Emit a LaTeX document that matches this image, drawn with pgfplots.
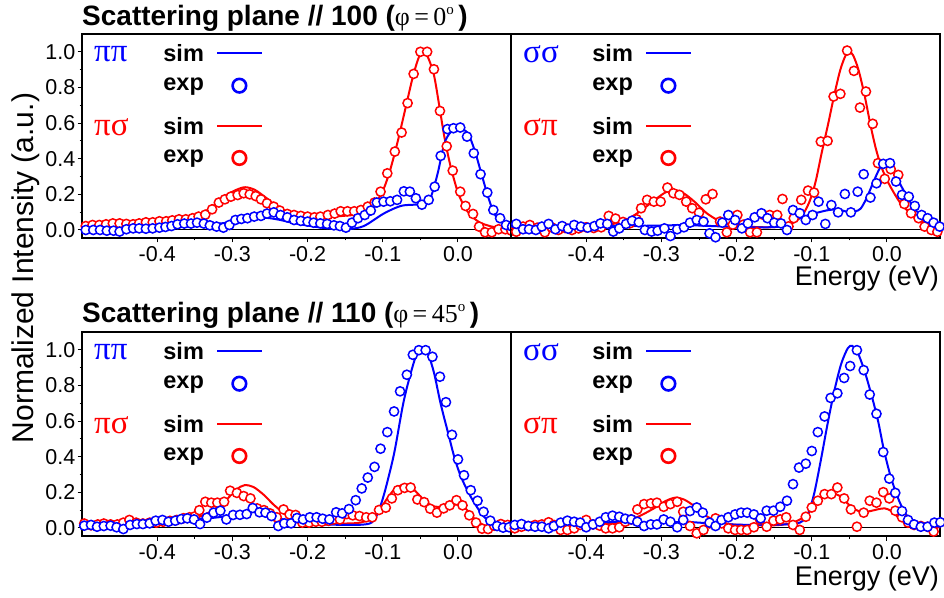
\documentclass[border=0pt]{standalone}
\usepackage{fontspec}
\setmainfont{Liberation Sans}
\newfontfamily\serif{Liberation Serif}
\usepackage{pgfplots}
\pgfplotsset{compat=1.18}
\definecolor{pblue}{RGB}{0,0,255}
\definecolor{pred}{RGB}{255,0,0}
\pgfplotsset{
  panel/.style={
    scale only axis, width=429pt, height=204pt,
    xmin=-0.5, xmax=0.0705, ymin=-0.045, ymax=1.10,
    axis line style={line width=1.6pt},
    tick align=outside, major tick length=4.5pt, minor tick length=2.5pt,
    every tick/.style={black, line width=1pt},
    xtick={-0.4,-0.3,-0.2,-0.1,0}, minor x tick num=1,
    xtick pos=lower, ytick pos=left,
    ytick={0,0.2,0.4,0.6,0.8,1.0}, minor y tick num=1,
    tick label style={font=\fontsize{21.5}{21.5}\selectfont},
    xticklabel style={/pgf/number format/.cd, fixed, fixed zerofill, precision=1, assume math mode=true},
    yticklabel style={inner sep=2pt, /pgf/number format/.cd, fixed, fixed zerofill, precision=1, assume math mode=true},
    clip=false,
  },
  rpanel/.style={panel, ytick=\empty},
  sim/.style={line width=2pt, smooth, no marks},
  expm/.style={only marks, mark=*, mark size=4.6pt, mark options={fill=white, line width=1.5pt}},
}
\newcommand{\legtext}{\fontsize{23.5}{23.5}\selectfont\bfseries}
\newcommand{\greektext}{\fontsize{33}{33}\serif}
\newcommand{\panellegend}[2]{%
  \node[anchor=west,inner sep=0,text=pblue,font=\greektext] at (axis cs:-0.484,0.985) {#1};
  \node[anchor=west,inner sep=0,font=\legtext] at (axis cs:-0.392,0.99) {sim};
  \addplot[pblue, line width=2pt, forget plot] coordinates {(-0.32,0.994) (-0.26,0.994)};
  \node[anchor=west,inner sep=0,font=\legtext] at (axis cs:-0.392,0.803) {exp};
  \addplot[pblue, only marks, mark=o, mark size=6.8pt, mark options={line width=2.6pt}, forget plot] coordinates {(-0.2907,0.81)};
  \node[anchor=west,inner sep=0,text=pred,font=\greektext] at (axis cs:-0.484,0.579) {#2};
  \node[anchor=west,inner sep=0,font=\legtext] at (axis cs:-0.392,0.584) {sim};
  \addplot[pred, line width=2pt, forget plot] coordinates {(-0.32,0.584) (-0.26,0.584)};
  \node[anchor=west,inner sep=0,font=\legtext] at (axis cs:-0.392,0.40) {exp};
  \addplot[pred, only marks, mark=o, mark size=6.8pt, mark options={line width=2.6pt}, forget plot] coordinates {(-0.2907,0.404)};
}
\newcommand{\zeroline}{\addplot[black, line width=1pt, forget plot] coordinates {(-0.5,0) (0.0705,0)};}
\begin{document}
\begin{tikzpicture}
\useasboundingbox (0pt,0pt) rectangle (944pt,597pt);

% ---------------- top left
\begin{axis}[panel, at={(82pt,359pt)}, anchor=south west]
\zeroline
\addplot[pred, sim] coordinates {(-0.5,0.025) (-0.45,0.03) (-0.40,0.04) (-0.37,0.06) (-0.35,0.08) (-0.33,0.12) (-0.31,0.19) (-0.295,0.225) (-0.283,0.24) (-0.27,0.225) (-0.255,0.18) (-0.24,0.13) (-0.225,0.10) (-0.21,0.085) (-0.19,0.075) (-0.17,0.075) (-0.15,0.08) (-0.13,0.09) (-0.115,0.12) (-0.10,0.22) (-0.09,0.34) (-0.08,0.50) (-0.07,0.68) (-0.06,0.86) (-0.052,0.97) (-0.046,1.0) (-0.04,0.97) (-0.032,0.87) (-0.025,0.70) (-0.018,0.52) (-0.01,0.36) (0.0,0.21) (0.01,0.12) (0.02,0.07) (0.03,0.04) (0.04,0.025) (0.05,0.015) (0.0705,0.01)};
\addplot[pblue, sim] coordinates {(-0.5,0.0) (-0.45,0.003) (-0.40,0.01) (-0.36,0.02) (-0.33,0.03) (-0.30,0.045) (-0.28,0.062) (-0.265,0.07) (-0.25,0.066) (-0.235,0.055) (-0.22,0.04) (-0.20,0.025) (-0.18,0.012) (-0.16,0.005) (-0.145,0.005) (-0.13,0.015) (-0.12,0.034) (-0.098,0.094) (-0.076,0.135) (-0.058,0.142) (-0.045,0.148) (-0.036,0.187) (-0.027,0.318) (-0.018,0.487) (-0.009,0.552) (0.002,0.571) (0.013,0.543) (0.022,0.449) (0.031,0.318) (0.040,0.187) (0.048,0.094) (0.057,0.047) (0.0705,0.019)};
\addplot[pred, expm] coordinates {(-0.495,0.022) (-0.486,0.028) (-0.477,0.028) (-0.468,0.032) (-0.459,0.037) (-0.450,0.037) (-0.441,0.034) (-0.432,0.032) (-0.424,0.037) (-0.415,0.043) (-0.406,0.043) (-0.397,0.049) (-0.388,0.049) (-0.380,0.054) (-0.371,0.060) (-0.362,0.060) (-0.353,0.066) (-0.345,0.075) (-0.336,0.086) (-0.327,0.116) (-0.318,0.154) (-0.310,0.172) (-0.302,0.187) (-0.293,0.196) (-0.285,0.206) (-0.277,0.200) (-0.269,0.190) (-0.262,0.172) (-0.254,0.150) (-0.245,0.131) (-0.237,0.109) (-0.227,0.090) (-0.218,0.084) (-0.209,0.079) (-0.200,0.075) (-0.191,0.071) (-0.183,0.075) (-0.173,0.084) (-0.164,0.092) (-0.156,0.105) (-0.147,0.105) (-0.138,0.105) (-0.129,0.112) (-0.120,0.131) (-0.111,0.154) (-0.103,0.215) (-0.094,0.318) (-0.084,0.440) (-0.075,0.547) (-0.067,0.712) (-0.059,0.876) (-0.050,1.0) (-0.041,1.0) (-0.032,0.902) (-0.024,0.668) (-0.015,0.470) (-0.007,0.333) (0.003,0.215) (0.010,0.135) (0.020,0.090) (0.028,0.019) (0.036,-0.013) (0.045,-0.013) (0.054,0.004) (0.063,0.004) (0.071,-0.004)};
\addplot[pblue, expm] coordinates {(-0.495,0.0) (-0.485,0.0) (-0.476,0.0) (-0.467,-0.004) (-0.458,-0.004) (-0.450,-0.009) (-0.441,0.004) (-0.432,0.009) (-0.424,0.009) (-0.415,0.007) (-0.406,0.009) (-0.397,0.013) (-0.389,0.017) (-0.381,0.022) (-0.373,0.032) (-0.364,0.036) (-0.355,0.036) (-0.347,0.041) (-0.338,0.036) (-0.330,0.026) (-0.321,0.019) (-0.312,0.013) (-0.304,0.028) (-0.296,0.056) (-0.288,0.062) (-0.280,0.066) (-0.271,0.075) (-0.262,0.079) (-0.254,0.092) (-0.245,0.099) (-0.236,0.084) (-0.227,0.071) (-0.218,0.056) (-0.209,0.051) (-0.200,0.047) (-0.192,0.041) (-0.183,0.037) (-0.174,0.034) (-0.165,0.026) (-0.157,0.022) (-0.149,0.013) (-0.141,0.041) (-0.133,0.066) (-0.124,0.084) (-0.116,0.109) (-0.108,0.154) (-0.099,0.159) (-0.090,0.161) (-0.081,0.169) (-0.072,0.217) (-0.064,0.215) (-0.056,0.178) (-0.048,0.142) (-0.039,0.169) (-0.031,0.243) (-0.023,0.416) (-0.014,0.566) (-0.006,0.571) (0.003,0.575) (0.012,0.524) (0.021,0.431) (0.030,0.313) (0.039,0.210) (0.047,0.112) (0.056,0.066) (0.064,0.028) (0.072,0.019)};
\panellegend{ππ}{πσ}
\end{axis}

% ---------------- top right
\begin{axis}[rpanel, at={(511pt,359pt)}, anchor=south west]
\zeroline
\addplot[pred, sim] coordinates {(-0.5,0.01) (-0.45,0.012) (-0.40,0.018) (-0.37,0.03) (-0.35,0.05) (-0.33,0.10) (-0.31,0.165) (-0.295,0.21) (-0.283,0.225) (-0.27,0.205) (-0.255,0.155) (-0.24,0.095) (-0.225,0.055) (-0.21,0.03) (-0.19,0.02) (-0.16,0.015) (-0.14,0.02) (-0.125,0.04) (-0.113,0.08) (-0.103,0.16) (-0.095,0.27) (-0.087,0.43) (-0.078,0.60) (-0.070,0.76) (-0.062,0.90) (-0.055,0.98) (-0.050,1.0) (-0.045,0.98) (-0.038,0.90) (-0.03,0.76) (-0.022,0.59) (-0.015,0.46) (-0.008,0.36) (0.0,0.28) (0.009,0.21) (0.018,0.15) (0.027,0.11) (0.036,0.075) (0.045,0.05) (0.055,0.03) (0.0705,0.01)};
\addplot[pblue, sim] coordinates {(-0.5,0.02) (-0.45,0.02) (-0.40,0.02) (-0.35,0.022) (-0.30,0.025) (-0.27,0.028) (-0.25,0.025) (-0.22,0.02) (-0.19,0.015) (-0.16,0.015) (-0.14,0.02) (-0.13,0.035) (-0.12,0.06) (-0.11,0.075) (-0.10,0.088) (-0.09,0.10) (-0.08,0.11) (-0.07,0.115) (-0.06,0.11) (-0.05,0.10) (-0.042,0.105) (-0.035,0.12) (-0.027,0.18) (-0.018,0.27) (-0.009,0.35) (0.0,0.375) (0.008,0.34) (0.016,0.27) (0.025,0.20) (0.035,0.13) (0.045,0.08) (0.055,0.045) (0.0705,0.01)};
\addplot[pred, expm] coordinates {(-0.493,-0.01) (-0.484,0.019) (-0.475,0.028) (-0.465,0.013) (-0.455,-0.013) (-0.446,0.015) (-0.437,0.0) (-0.428,0.011) (-0.419,0.0) (-0.410,0.009) (-0.400,0.015) (-0.390,0.011) (-0.380,0.015) (-0.370,0.079) (-0.361,0.064) (-0.351,0.045) (-0.342,0.037) (-0.333,0.06) (-0.327,0.122) (-0.319,0.169) (-0.310,0.159) (-0.301,0.159) (-0.292,0.238) (-0.284,0.206) (-0.276,0.197) (-0.267,0.159) (-0.259,0.122) (-0.250,0.097) (-0.241,0.172) (-0.232,0.202) (-0.222,0.047) (-0.213,-0.013) (-0.205,0.03) (-0.199,0.084) (-0.191,0.03) (-0.182,-0.013) (-0.173,-0.013) (-0.164,0.084) (-0.156,0.084) (-0.146,0.084) (-0.139,0.174) (-0.131,0.02) (-0.124,0.066) (-0.114,0.169) (-0.105,0.221) (-0.097,0.21) (-0.088,0.496) (-0.079,0.5) (-0.071,0.749) (-0.062,0.764) (-0.053,1.007) (-0.044,0.893) (-0.036,0.687) (-0.028,0.777) (-0.019,0.596) (-0.012,0.375) (-0.003,0.287) (0.005,0.341) (0.015,0.309) (0.023,0.146) (0.032,0.094) (0.042,0.066) (0.050,0.019) (0.059,0.0) (0.067,-0.01)};
\addplot[pblue, expm] coordinates {(-0.493,0.034) (-0.484,0.004) (-0.476,0.004) (-0.467,0.0) (-0.459,0.019) (-0.450,0.034) (-0.441,0.004) (-0.432,0.022) (-0.424,0.007) (-0.416,0.028) (-0.407,0.019) (-0.398,0.013) (-0.389,0.022) (-0.381,0.037) (-0.372,0.034) (-0.364,-0.009) (-0.356,0.009) (-0.347,0.034) (-0.339,0.052) (-0.330,0.043) (-0.322,0.0) (-0.313,-0.009) (-0.305,-0.004) (-0.296,0.009) (-0.288,-0.034) (-0.279,0.004) (-0.270,0.015) (-0.262,0.041) (-0.253,0.056) (-0.244,0.047) (-0.236,-0.019) (-0.228,-0.041) (-0.219,0.041) (-0.211,0.084) (-0.202,0.056) (-0.193,0.009) (-0.185,0.037) (-0.176,0.071) (-0.167,0.094) (-0.159,0.066) (-0.150,0.041) (-0.141,0.037) (-0.133,0.0) (-0.125,0.112) (-0.116,0.094) (-0.108,0.056) (-0.099,0.084) (-0.091,0.159) (-0.082,0.034) (-0.074,0.14) (-0.065,0.099) (-0.056,0.202) (-0.048,0.099) (-0.039,0.215) (-0.031,0.313) (-0.022,0.182) (-0.014,0.262) (-0.005,0.371) (0.004,0.375) (0.012,0.272) (0.020,0.197) (0.029,0.187) (0.037,0.135) (0.046,0.084) (0.054,0.066) (0.062,0.041) (0.070,0.019)};
\panellegend{σσ}{σπ}
\end{axis}

% ---------------- bottom left
\begin{axis}[panel, at={(82pt,61pt)}, anchor=south west]
\zeroline
\addplot[pred, sim] coordinates {(-0.5,0.015) (-0.45,0.018) (-0.42,0.022) (-0.39,0.03) (-0.37,0.04) (-0.35,0.055) (-0.33,0.09) (-0.31,0.15) (-0.295,0.215) (-0.284,0.24) (-0.272,0.23) (-0.258,0.185) (-0.245,0.13) (-0.23,0.08) (-0.215,0.05) (-0.2,0.035) (-0.18,0.028) (-0.15,0.025) (-0.13,0.03) (-0.117,0.05) (-0.105,0.10) (-0.095,0.16) (-0.085,0.215) (-0.075,0.24) (-0.065,0.24) (-0.055,0.2) (-0.045,0.155) (-0.035,0.125) (-0.025,0.118) (-0.013,0.122) (-0.002,0.132) (0.008,0.118) (0.017,0.075) (0.026,0.035) (0.035,0.015) (0.045,0.007) (0.0705,0.005)};
\addplot[pblue, sim] coordinates {(-0.5,0.01) (-0.45,0.015) (-0.40,0.025) (-0.37,0.04) (-0.35,0.05) (-0.33,0.055) (-0.31,0.065) (-0.29,0.08) (-0.275,0.09) (-0.26,0.085) (-0.245,0.065) (-0.23,0.045) (-0.21,0.03) (-0.19,0.022) (-0.16,0.018) (-0.13,0.018) (-0.115,0.03) (-0.107,0.08) (-0.098,0.194) (-0.085,0.417) (-0.072,0.715) (-0.058,0.939) (-0.049,1.013) (-0.040,0.976) (-0.032,0.873) (-0.023,0.696) (-0.014,0.547) (-0.005,0.40) (0.004,0.287) (0.017,0.175) (0.031,0.082) (0.044,0.026) (0.057,0.007) (0.0705,0.004)};
\addplot[pred, expm] coordinates {(-0.497,0.025) (-0.488,0.015) (-0.479,0.02) (-0.471,0.025) (-0.462,0.02) (-0.453,0.02) (-0.445,0.03) (-0.437,0.045) (-0.428,0.03) (-0.419,0.025) (-0.410,0.03) (-0.401,0.03) (-0.392,0.035) (-0.383,0.04) (-0.374,0.045) (-0.365,0.055) (-0.357,0.06) (-0.350,0.065) (-0.344,0.1) (-0.336,0.147) (-0.328,0.142) (-0.320,0.142) (-0.311,0.147) (-0.303,0.209) (-0.294,0.197) (-0.285,0.179) (-0.276,0.166) (-0.267,0.11) (-0.258,0.1) (-0.250,0.082) (-0.241,0.06) (-0.232,0.104) (-0.224,0.076) (-0.216,0.073) (-0.207,0.03) (-0.198,0.03) (-0.189,0.035) (-0.181,0.035) (-0.172,0.04) (-0.165,0.048) (-0.157,0.048) (-0.148,0.078) (-0.140,0.071) (-0.131,0.067) (-0.122,0.06) (-0.114,0.06) (-0.105,0.101) (-0.096,0.114) (-0.088,0.166) (-0.080,0.212) (-0.071,0.225) (-0.063,0.227) (-0.054,0.16) (-0.045,0.145) (-0.037,0.108) (-0.028,0.086) (-0.019,0.11) (-0.011,0.127) (-0.002,0.156) (0.006,0.127) (0.015,0.071) (0.024,0.03) (0.032,-0.004) (0.040,-0.006) (0.048,0.013) (0.057,0.022) (0.066,0.017)};
\addplot[pblue, expm] coordinates {(-0.497,0.013) (-0.488,0.017) (-0.480,0.007) (-0.471,0.011) (-0.462,0.013) (-0.454,0.004) (-0.445,-0.006) (-0.436,0.017) (-0.427,0.022) (-0.419,0.022) (-0.410,0.026) (-0.402,0.041) (-0.393,0.045) (-0.385,0.035) (-0.376,0.041) (-0.368,0.05) (-0.360,0.054) (-0.351,0.048) (-0.343,0.022) (-0.334,0.058) (-0.325,0.086) (-0.316,0.097) (-0.308,0.048) (-0.299,0.073) (-0.290,0.074) (-0.281,0.078) (-0.273,0.112) (-0.264,0.088) (-0.256,0.086) (-0.248,0.067) (-0.239,0.011) (-0.231,0.026) (-0.222,0.026) (-0.214,0.056) (-0.206,0.048) (-0.197,0.06) (-0.188,0.06) (-0.180,0.052) (-0.171,0.048) (-0.162,0.088) (-0.154,0.082) (-0.145,0.106) (-0.136,0.156) (-0.128,0.222) (-0.120,0.283) (-0.111,0.343) (-0.103,0.445) (-0.094,0.538) (-0.085,0.654) (-0.077,0.767) (-0.068,0.86) (-0.060,0.972) (-0.052,0.998) (-0.043,0.998) (-0.034,0.961) (-0.024,0.849) (-0.016,0.706) (-0.008,0.523) (0.000,0.385) (0.008,0.296) (0.017,0.212) (0.026,0.153) (0.034,0.091) (0.043,0.041) (0.052,0.011) (0.060,0.002) (0.068,0.004)};
\panellegend{ππ}{πσ}
\end{axis}

% ---------------- bottom right
\begin{axis}[rpanel, at={(511pt,61pt)}, anchor=south west]
\zeroline
\addplot[pred, sim] coordinates {(-0.5,0.01) (-0.45,0.013) (-0.40,0.02) (-0.37,0.025) (-0.35,0.035) (-0.33,0.065) (-0.31,0.11) (-0.295,0.15) (-0.282,0.17) (-0.27,0.16) (-0.257,0.125) (-0.243,0.075) (-0.228,0.04) (-0.21,0.022) (-0.19,0.016) (-0.16,0.014) (-0.14,0.018) (-0.125,0.03) (-0.113,0.055) (-0.103,0.09) (-0.093,0.14) (-0.083,0.18) (-0.073,0.195) (-0.063,0.18) (-0.053,0.14) (-0.043,0.105) (-0.033,0.09) (-0.022,0.095) (-0.012,0.105) (-0.003,0.11) (0.006,0.095) (0.015,0.06) (0.024,0.035) (0.034,0.015) (0.045,0.007) (0.0705,0.003)};
\addplot[pblue, sim] coordinates {(-0.5,0.015) (-0.45,0.018) (-0.40,0.022) (-0.375,0.03) (-0.36,0.035) (-0.34,0.033) (-0.31,0.028) (-0.29,0.03) (-0.27,0.035) (-0.25,0.03) (-0.22,0.022) (-0.19,0.018) (-0.16,0.018) (-0.135,0.02) (-0.12,0.025) (-0.112,0.04) (-0.105,0.08) (-0.097,0.19) (-0.088,0.38) (-0.079,0.585) (-0.070,0.77) (-0.061,0.92) (-0.052,1.01) (-0.046,1.022) (-0.039,0.985) (-0.030,0.883) (-0.021,0.752) (-0.012,0.603) (-0.004,0.436) (0.005,0.287) (0.014,0.175) (0.023,0.091) (0.032,0.045) (0.045,0.017) (0.0705,0.008)};
\addplot[pred, expm] coordinates {(-0.495,-0.002) (-0.486,0.007) (-0.477,0.011) (-0.468,0.017) (-0.459,0.02) (-0.450,0.032) (-0.443,0.017) (-0.434,-0.011) (-0.425,-0.011) (-0.416,-0.002) (-0.408,0.017) (-0.400,0.045) (-0.391,0.02) (-0.382,0.013) (-0.374,-0.002) (-0.365,-0.002) (-0.356,0.004) (-0.348,0.035) (-0.340,0.048) (-0.332,0.104) (-0.323,0.134) (-0.314,0.138) (-0.306,0.142) (-0.297,0.119) (-0.288,0.134) (-0.279,0.147) (-0.271,0.091) (-0.262,0.011) (-0.253,-0.03) (-0.244,-0.011) (-0.236,0.026) (-0.228,0.054) (-0.220,0.026) (-0.211,-0.002) (-0.202,-0.011) (-0.194,-0.011) (-0.186,-0.011) (-0.177,0.004) (-0.169,0.048) (-0.160,0.007) (-0.151,0.041) (-0.142,0.048) (-0.134,0.06) (-0.125,0.017) (-0.116,-0.011) (-0.108,0.063) (-0.100,0.115) (-0.092,0.153) (-0.083,0.19) (-0.074,0.19) (-0.066,0.227) (-0.057,0.166) (-0.048,0.104) (-0.040,0.007) (-0.031,0.086) (-0.023,0.153) (-0.014,0.142) (-0.005,0.201) (0.003,0.166) (0.011,0.097) (0.020,0.06) (0.028,0.03) (0.036,0.017) (0.045,0.011) (0.054,0.007) (0.062,-0.02)};
\addplot[pblue, expm] coordinates {(-0.495,0.017) (-0.486,0.022) (-0.477,0.011) (-0.468,0.007) (-0.459,0.007) (-0.450,-0.002) (-0.443,0.011) (-0.434,0.03) (-0.425,0.041) (-0.416,0.035) (-0.408,0.03) (-0.400,0.004) (-0.391,0.02) (-0.382,0.035) (-0.374,0.06) (-0.365,0.069) (-0.356,0.063) (-0.348,0.052) (-0.340,0.048) (-0.332,0.035) (-0.323,0.011) (-0.314,0.02) (-0.306,0.02) (-0.297,0.048) (-0.288,0.035) (-0.279,0.004) (-0.271,0.045) (-0.262,0.095) (-0.253,0.115) (-0.245,0.086) (-0.236,0.03) (-0.228,0.011) (-0.220,0.045) (-0.211,0.06) (-0.202,0.076) (-0.194,0.086) (-0.186,0.086) (-0.177,0.076) (-0.168,0.054) (-0.160,0.097) (-0.151,0.097) (-0.142,0.119) (-0.133,0.153) (-0.125,0.246) (-0.117,0.339) (-0.108,0.361) (-0.100,0.432) (-0.092,0.538) (-0.083,0.626) (-0.075,0.73) (-0.066,0.756) (-0.057,0.842) (-0.049,0.909) (-0.040,0.998) (-0.031,0.886) (-0.023,0.749) (-0.014,0.641) (-0.005,0.426) (0.003,0.277) (0.011,0.197) (0.020,0.095) (0.028,0.045) (0.036,0.02) (0.045,0.007) (0.054,0.007) (0.063,0.03) (0.071,0.032)};
\panellegend{σσ}{σπ}
\end{axis}

% ---------------- titles and labels
\node[anchor=base west, inner sep=0] at (82pt,571pt) {{\fontsize{28}{28}\selectfont\bfseries Scattering plane // 100 (}{\fontsize{26}{26}\serif φ\,=\,0}\raisebox{11pt}{\fontsize{15}{15}\serif o}{\fontsize{28}{28}\selectfont\bfseries\,)}};
\node[anchor=base west, inner sep=0] at (82pt,274pt) {{\fontsize{28}{28}\selectfont\bfseries Scattering plane // 110 (}{\fontsize{26}{26}\serif φ\,=\,45}\raisebox{11pt}{\fontsize{15}{15}\serif o}{\fontsize{28}{28}\selectfont\bfseries\,)}};
\node[anchor=base east, inner sep=0, font=\fontsize{27}{27}\selectfont] at (939pt,311pt) {Energy (eV)};
\node[anchor=base east, inner sep=0, font=\fontsize{27}{27}\selectfont] at (939pt,12pt) {Energy (eV)};
\node[rotate=90, anchor=base, inner sep=0, font=\fontsize{30}{30}\selectfont] at (33pt,329pt) {Normalized Intensity (a.u.)};
\end{tikzpicture}
\end{document}
